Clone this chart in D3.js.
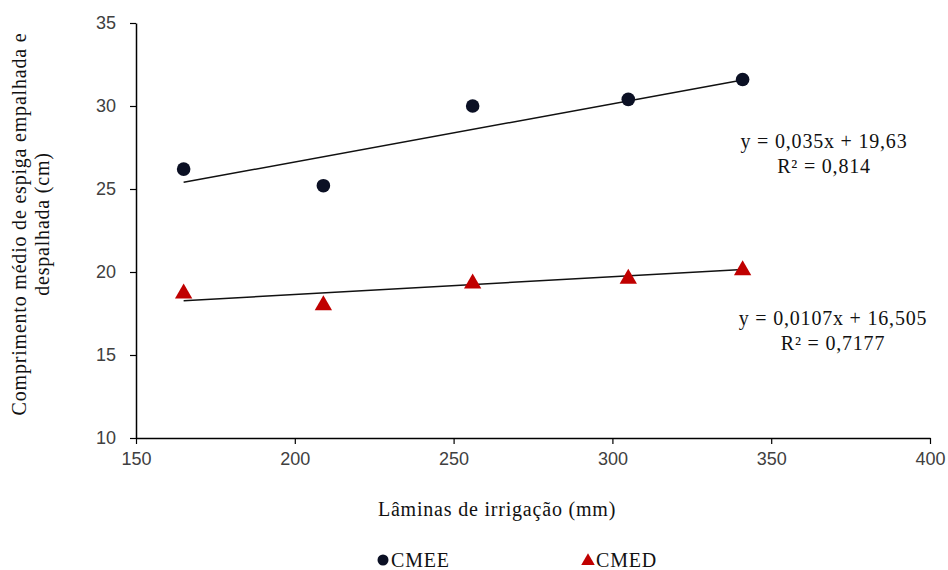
<!DOCTYPE html>
<html>
<head>
<meta charset="utf-8">
<script src="https://cdn.jsdelivr.net/npm/d3@7"></script>
<style>
  html, body { margin: 0; padding: 0; background: #fff; }
  svg { display: block; }
</style>
</head>
<body>
<svg id="chart" width="948" height="570"></svg>
<script>
// Irrigation depths (mm) and mean ear length (cm)
const laminas = [165, 209, 256, 305, 341];
const cmee = [26.2, 25.2, 30.0, 30.4, 31.6];   // ear with husk
const cmed = [18.7, 18.0, 19.3, 19.6, 20.1];   // husked ear
const xTicks = [150, 200, 250, 300, 350, 400];
const yTicks = [10, 15, 20, 25, 30, 35];
// Linear fits: [slope, intercept, R²]
const fitCmee = [0.035, 19.63, "0,814"];
const fitCmed = [0.0107, 16.505, "0,7177"];
const fitLabels = ["y = 0,035x + 19,63", "y = 0,0107x + 16,505"];

const svg = d3.select("#chart");
const x = d3.scaleLinear().domain([150, 400]).range([136, 930]);
const y = d3.scaleLinear().domain([10, 35]).range([438, 23]);

const tickFont = "'Liberation Sans', Arial, sans-serif";
const serif = "'Liberation Serif', 'Times New Roman', serif";

function serifText(sel) {
  return sel.style("font-family", serif).style("font-size", "20px")
    .style("letter-spacing", "0.8px").attr("fill", "#111");
}

// Axes
const xAxis = svg.append("g").attr("transform", `translate(0,${y(10)})`)
  .call(d3.axisBottom(x).tickValues(xTicks).tickSize(6).tickSizeOuter(0));
const yAxis = svg.append("g").attr("transform", `translate(${x(150)},0)`)
  .call(d3.axisLeft(y).tickValues(yTicks).tickSize(6).tickSizeOuter(0));
[xAxis, yAxis].forEach(g => {
  g.select(".domain").attr("stroke", "#000").attr("stroke-width", 1.5);
  g.selectAll(".tick line").attr("stroke", "#000").attr("stroke-width", 1.2);
  g.selectAll(".tick text").attr("fill", "#404040")
    .style("font-family", tickFont).style("font-size", "18px");
});
xAxis.selectAll(".tick text").attr("dy", "1.05em").attr("y", 8);
yAxis.selectAll(".tick text").attr("x", -20);

// Trend lines across the measured range
const xMin = d3.min(laminas), xMax = d3.max(laminas);
[fitCmee, fitCmed].forEach(f => {
  svg.append("line")
    .attr("x1", x(xMin)).attr("y1", y(f[0] * xMin + f[1]))
    .attr("x2", x(xMax)).attr("y2", y(f[0] * xMax + f[1]))
    .attr("stroke", "#111").attr("stroke-width", 1.5);
});

// CMEE points
svg.append("g").selectAll("circle").data(laminas).join("circle")
  .attr("cx", d => x(d)).attr("cy", (d, i) => y(cmee[i]))
  .attr("r", 6.8).attr("fill", "#0b1024");

// CMED points
const tri = d3.symbol().type(d3.symbolTriangle).size(130);
svg.append("g").selectAll("path").data(laminas).join("path")
  .attr("d", tri)
  .attr("transform", (d, i) => `translate(${x(d)},${y(cmed[i])})`)
  .attr("fill", "#c00000");

// Equations
function equation(cx, cy, eq, r2) {
  const t = serifText(svg.append("text").attr("text-anchor", "middle"));
  t.append("tspan").attr("x", cx).attr("y", cy).text(eq);
  t.append("tspan").attr("x", cx).attr("y", cy + 25).text("R² = " + r2);
}
equation(824, 148, fitLabels[0], fitCmee[2]);
equation(833, 325, fitLabels[1], fitCmed[2]);

// Axis titles
serifText(svg.append("text").attr("x", 497).attr("y", 516).attr("text-anchor", "middle"))
  .text("Lâminas de irrigação (mm)");
const yt = serifText(svg.append("text").attr("transform", "translate(0,224) rotate(-90)")
  .attr("text-anchor", "middle"));
yt.append("tspan").attr("x", 0).attr("y", 26).text("Comprimento médio de espiga empalhada e");
yt.append("tspan").attr("x", 0).attr("y", 49).text("despalhada (cm)");

// Legend
const leg = svg.append("g");
leg.append("circle").attr("cx", 383).attr("cy", 560).attr("r", 5.5).attr("fill", "#0b1024");
serifText(leg.append("text").attr("x", 391).attr("y", 567)).text("CMEE");
leg.append("path").attr("d", d3.symbol().type(d3.symbolTriangle).size(80))
  .attr("transform", "translate(588,561)").attr("fill", "#c00000");
serifText(leg.append("text").attr("x", 596).attr("y", 567)).text("CMED");
</script>
</body>
</html>
